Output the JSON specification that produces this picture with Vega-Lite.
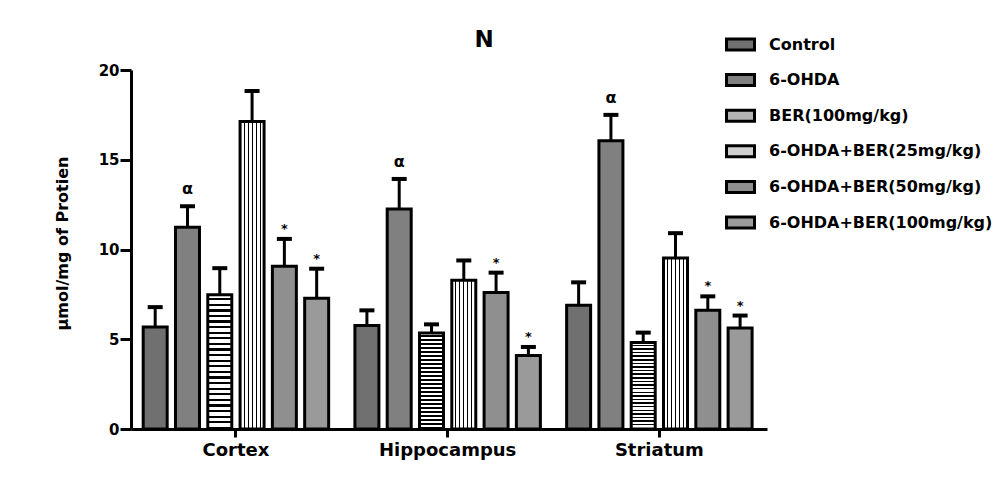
{
  "$schema": "https://vega.github.io/schema/vega-lite/v6.json",
  "width": 636,
  "height": 359,
  "autosize": "none",
  "padding": {"left": 131, "top": 70, "right": 228, "bottom": 50},
  "background": "white",
  "config": {
    "view": {"stroke": null},
    "font": "DejaVu Sans",
    "text": {"font": "DejaVu Sans"},
    "axisY": {
      "grid": false,
      "domainWidth": 3, "domainColor": "black", "tickWidth": 3, "tickColor": "black", "tickSize": 11,
      "labelFont": "DejaVu Sans", "labelFontSize": 15, "labelFontWeight": "bold", "labelColor": "black", "labelPadding": 1,
      "titleFont": "DejaVu Sans", "titleFontSize": 16, "titleFontWeight": "bold", "titleColor": "black",
      "titleX": -69, "titleY": 173, "titleAngle": -90, "titleAlign": "center", "titleBaseline": "middle"
    },
    "axisX": {
      "labelAngle": 0, "domainWidth": 3, "domainColor": "black",
      "tickWidth": 3, "tickColor": "black", "tickSize": 8,
      "labelFont": "DejaVu Sans", "labelFontSize": 18, "labelFontWeight": "bold", "labelColor": "black", "labelPadding": 4
    }
  },
  "title": {"text": "N", "fontSize": 23, "font": "DejaVu Sans", "fontWeight": "bold", "color": "black", "dx": 35, "offset": -37, "baseline": "alphabetic", "anchor": "middle"},
  "data": {
    "values": [
      {"region": "Cortex", "group": "Control", "mean": 5.68, "upper": 6.79, "sig": ""},
      {"region": "Cortex", "group": "6-OHDA", "mean": 11.24, "upper": 12.41, "sig": "α"},
      {"region": "Cortex", "group": "BER(100mg/kg)", "mean": 7.48, "upper": 8.96, "sig": ""},
      {"region": "Cortex", "group": "6-OHDA+BER(25mg/kg)", "mean": 17.13, "upper": 18.83, "sig": ""},
      {"region": "Cortex", "group": "6-OHDA+BER(50mg/kg)", "mean": 9.06, "upper": 10.59, "sig": "*"},
      {"region": "Cortex", "group": "6-OHDA+BER(100mg/kg)", "mean": 7.29, "upper": 8.93, "sig": "*"},
      {"region": "Hippocampus", "group": "Control", "mean": 5.76, "upper": 6.61, "sig": ""},
      {"region": "Hippocampus", "group": "6-OHDA", "mean": 12.26, "upper": 13.93, "sig": "α"},
      {"region": "Hippocampus", "group": "BER(100mg/kg)", "mean": 5.35, "upper": 5.83, "sig": ""},
      {"region": "Hippocampus", "group": "6-OHDA+BER(25mg/kg)", "mean": 8.28, "upper": 9.39, "sig": ""},
      {"region": "Hippocampus", "group": "6-OHDA+BER(50mg/kg)", "mean": 7.61, "upper": 8.71, "sig": "*"},
      {"region": "Hippocampus", "group": "6-OHDA+BER(100mg/kg)", "mean": 4.09, "upper": 4.57, "sig": "*"},
      {"region": "Striatum", "group": "Control", "mean": 6.89, "upper": 8.17, "sig": ""},
      {"region": "Striatum", "group": "6-OHDA", "mean": 16.06, "upper": 17.5, "sig": "α"},
      {"region": "Striatum", "group": "BER(100mg/kg)", "mean": 4.82, "upper": 5.37, "sig": ""},
      {"region": "Striatum", "group": "6-OHDA+BER(25mg/kg)", "mean": 9.52, "upper": 10.91, "sig": ""},
      {"region": "Striatum", "group": "6-OHDA+BER(50mg/kg)", "mean": 6.61, "upper": 7.39, "sig": "*"},
      {"region": "Striatum", "group": "6-OHDA+BER(100mg/kg)", "mean": 5.63, "upper": 6.32, "sig": "*"}
    ]
  },
  "encoding": {
    "x": {
      "field": "region", "type": "nominal",
      "sort": ["Cortex", "Hippocampus", "Striatum"],
      "scale": {"paddingInner": 0.124, "paddingOuter": 0.064, "align": 0.45},
      "title": null
    },
    "xOffset": {
      "field": "group", "type": "nominal",
      "sort": ["Control", "6-OHDA", "BER(100mg/kg)", "6-OHDA+BER(25mg/kg)", "6-OHDA+BER(50mg/kg)", "6-OHDA+BER(100mg/kg)"],
      "scale": {"paddingInner": 0.257, "paddingOuter": 0}
    }
  },
  "layer": [
    {
      "mark": {"type": "bar", "stroke": "black", "strokeWidth": 3},
      "encoding": {
        "y": {
          "field": "mean", "type": "quantitative",
          "scale": {"domain": [0, 20], "nice": false, "zero": true},
          "title": "µmol/mg of Protien",
          "axis": {"values": [0, 5, 10, 15, 20]}
        },
        "fill": {
          "condition": [
            {
              "test": "datum.group === 'BER(100mg/kg)'",
              "value": {
                "gradient": "linear", "x1": 0, "y1": 0, "x2": 0, "y2": 1,
                "stops": [
                  {"offset": 0, "color": "#fff"}, {"offset": 0.025, "color": "#fff"}, {"offset": 0.025, "color": "#000"}, {"offset": 0.0417, "color": "#000"},
                  {"offset": 0.0417, "color": "#fff"}, {"offset": 0.0667, "color": "#fff"}, {"offset": 0.0667, "color": "#000"}, {"offset": 0.0833, "color": "#000"},
                  {"offset": 0.0833, "color": "#fff"}, {"offset": 0.1083, "color": "#fff"}, {"offset": 0.1083, "color": "#000"}, {"offset": 0.125, "color": "#000"},
                  {"offset": 0.125, "color": "#fff"}, {"offset": 0.15, "color": "#fff"}, {"offset": 0.15, "color": "#000"}, {"offset": 0.1667, "color": "#000"},
                  {"offset": 0.1667, "color": "#fff"}, {"offset": 0.1917, "color": "#fff"}, {"offset": 0.1917, "color": "#000"}, {"offset": 0.2083, "color": "#000"},
                  {"offset": 0.2083, "color": "#fff"}, {"offset": 0.2333, "color": "#fff"}, {"offset": 0.2333, "color": "#000"}, {"offset": 0.25, "color": "#000"},
                  {"offset": 0.25, "color": "#fff"}, {"offset": 0.275, "color": "#fff"}, {"offset": 0.275, "color": "#000"}, {"offset": 0.2917, "color": "#000"},
                  {"offset": 0.2917, "color": "#fff"}, {"offset": 0.3167, "color": "#fff"}, {"offset": 0.3167, "color": "#000"}, {"offset": 0.3333, "color": "#000"},
                  {"offset": 0.3333, "color": "#fff"}, {"offset": 0.3583, "color": "#fff"}, {"offset": 0.3583, "color": "#000"}, {"offset": 0.375, "color": "#000"},
                  {"offset": 0.375, "color": "#fff"}, {"offset": 0.4, "color": "#fff"}, {"offset": 0.4, "color": "#000"}, {"offset": 0.4167, "color": "#000"},
                  {"offset": 0.4167, "color": "#fff"}, {"offset": 0.4417, "color": "#fff"}, {"offset": 0.4417, "color": "#000"}, {"offset": 0.4583, "color": "#000"},
                  {"offset": 0.4583, "color": "#fff"}, {"offset": 0.4833, "color": "#fff"}, {"offset": 0.4833, "color": "#000"}, {"offset": 0.5, "color": "#000"},
                  {"offset": 0.5, "color": "#fff"}, {"offset": 0.525, "color": "#fff"}, {"offset": 0.525, "color": "#000"}, {"offset": 0.5417, "color": "#000"},
                  {"offset": 0.5417, "color": "#fff"}, {"offset": 0.5667, "color": "#fff"}, {"offset": 0.5667, "color": "#000"}, {"offset": 0.5833, "color": "#000"},
                  {"offset": 0.5833, "color": "#fff"}, {"offset": 0.6083, "color": "#fff"}, {"offset": 0.6083, "color": "#000"}, {"offset": 0.625, "color": "#000"},
                  {"offset": 0.625, "color": "#fff"}, {"offset": 0.65, "color": "#fff"}, {"offset": 0.65, "color": "#000"}, {"offset": 0.6667, "color": "#000"},
                  {"offset": 0.6667, "color": "#fff"}, {"offset": 0.6917, "color": "#fff"}, {"offset": 0.6917, "color": "#000"}, {"offset": 0.7083, "color": "#000"},
                  {"offset": 0.7083, "color": "#fff"}, {"offset": 0.7333, "color": "#fff"}, {"offset": 0.7333, "color": "#000"}, {"offset": 0.75, "color": "#000"},
                  {"offset": 0.75, "color": "#fff"}, {"offset": 0.775, "color": "#fff"}, {"offset": 0.775, "color": "#000"}, {"offset": 0.7917, "color": "#000"},
                  {"offset": 0.7917, "color": "#fff"}, {"offset": 0.8167, "color": "#fff"}, {"offset": 0.8167, "color": "#000"}, {"offset": 0.8333, "color": "#000"},
                  {"offset": 0.8333, "color": "#fff"}, {"offset": 0.8583, "color": "#fff"}, {"offset": 0.8583, "color": "#000"}, {"offset": 0.875, "color": "#000"},
                  {"offset": 0.875, "color": "#fff"}, {"offset": 0.9, "color": "#fff"}, {"offset": 0.9, "color": "#000"}, {"offset": 0.9167, "color": "#000"},
                  {"offset": 0.9167, "color": "#fff"}, {"offset": 0.9417, "color": "#fff"}, {"offset": 0.9417, "color": "#000"}, {"offset": 0.9583, "color": "#000"},
                  {"offset": 0.9583, "color": "#fff"}, {"offset": 0.9833, "color": "#fff"}, {"offset": 0.9833, "color": "#000"}, {"offset": 1, "color": "#000"}
                ]
              }
            },
            {
              "test": "datum.group === '6-OHDA+BER(25mg/kg)'",
              "value": {
                "gradient": "linear", "x1": 0, "y1": 0, "x2": 1, "y2": 0,
                "stops": [
                  {"offset": 0, "color": "#fff"}, {"offset": 0.145, "color": "#fff"}, {"offset": 0.145, "color": "#000"}, {"offset": 0.19, "color": "#000"},
                  {"offset": 0.19, "color": "#fff"}, {"offset": 0.31, "color": "#fff"}, {"offset": 0.31, "color": "#000"}, {"offset": 0.355, "color": "#000"},
                  {"offset": 0.355, "color": "#fff"}, {"offset": 0.477, "color": "#fff"}, {"offset": 0.477, "color": "#000"}, {"offset": 0.522, "color": "#000"},
                  {"offset": 0.522, "color": "#fff"}, {"offset": 0.645, "color": "#fff"}, {"offset": 0.645, "color": "#000"}, {"offset": 0.69, "color": "#000"},
                  {"offset": 0.69, "color": "#fff"}, {"offset": 0.81, "color": "#fff"}, {"offset": 0.81, "color": "#000"}, {"offset": 0.855, "color": "#000"},
                  {"offset": 0.855, "color": "#fff"}, {"offset": 1, "color": "#fff"}
                ]
              }
            }
          ],
          "field": "group", "type": "nominal",
          "sort": ["Control", "6-OHDA", "BER(100mg/kg)", "6-OHDA+BER(25mg/kg)", "6-OHDA+BER(50mg/kg)", "6-OHDA+BER(100mg/kg)"],
          "scale": {
            "domain": ["Control", "6-OHDA", "BER(100mg/kg)", "6-OHDA+BER(25mg/kg)", "6-OHDA+BER(50mg/kg)", "6-OHDA+BER(100mg/kg)"],
            "range": ["#707070", "#808080", "#b5b5b5", "#cfcfcf", "#8f8f8f", "#9a9a9a"]
          },
          "legend": {
            "title": null, "orient": "none", "legendX": 598, "legendY": -37, "padding": 0,
            "symbolType": "M-1.4,-0.55H1.4V0.55H-1.4Z", "symbolSize": 400,
            "symbolStrokeColor": "black", "symbolStrokeWidth": 3,
            "labelFont": "DejaVu Sans", "labelFontSize": 16, "labelFontWeight": "bold", "labelColor": "black",
            "labelOffset": 17, "rowPadding": 12.6, "labelLimit": 400
          }
        }
      }
    },
    {
      "mark": {"type": "rule", "color": "black", "strokeWidth": 3, "opacity": 1},
      "encoding": {
        "y": {"field": "mean", "type": "quantitative", "title": "µmol/mg of Protien"},
        "y2": {"field": "upper"}
      }
    },
    {
      "mark": {"type": "tick", "color": "black", "thickness": 4, "size": 15, "opacity": 1},
      "encoding": {
        "y": {"field": "upper", "type": "quantitative", "title": "µmol/mg of Protien"}
      }
    },
    {
      "transform": [{"filter": "datum.sig === 'α'"}],
      "mark": {"type": "text", "font": "DejaVu Sans", "fontSize": 16, "fontWeight": "bold", "color": "black", "baseline": "alphabetic", "dy": -12},
      "encoding": {
        "y": {"field": "upper", "type": "quantitative", "title": "µmol/mg of Protien"},
        "text": {"field": "sig"}
      }
    },
    {
      "transform": [{"filter": "datum.sig === '*'"}],
      "mark": {"type": "text", "font": "DejaVu Sans", "fontSize": 13, "fontWeight": "bold", "color": "black", "baseline": "alphabetic", "dy": -6},
      "encoding": {
        "y": {"field": "upper", "type": "quantitative", "title": "µmol/mg of Protien"},
        "text": {"field": "sig"}
      }
    }
  ]
}
